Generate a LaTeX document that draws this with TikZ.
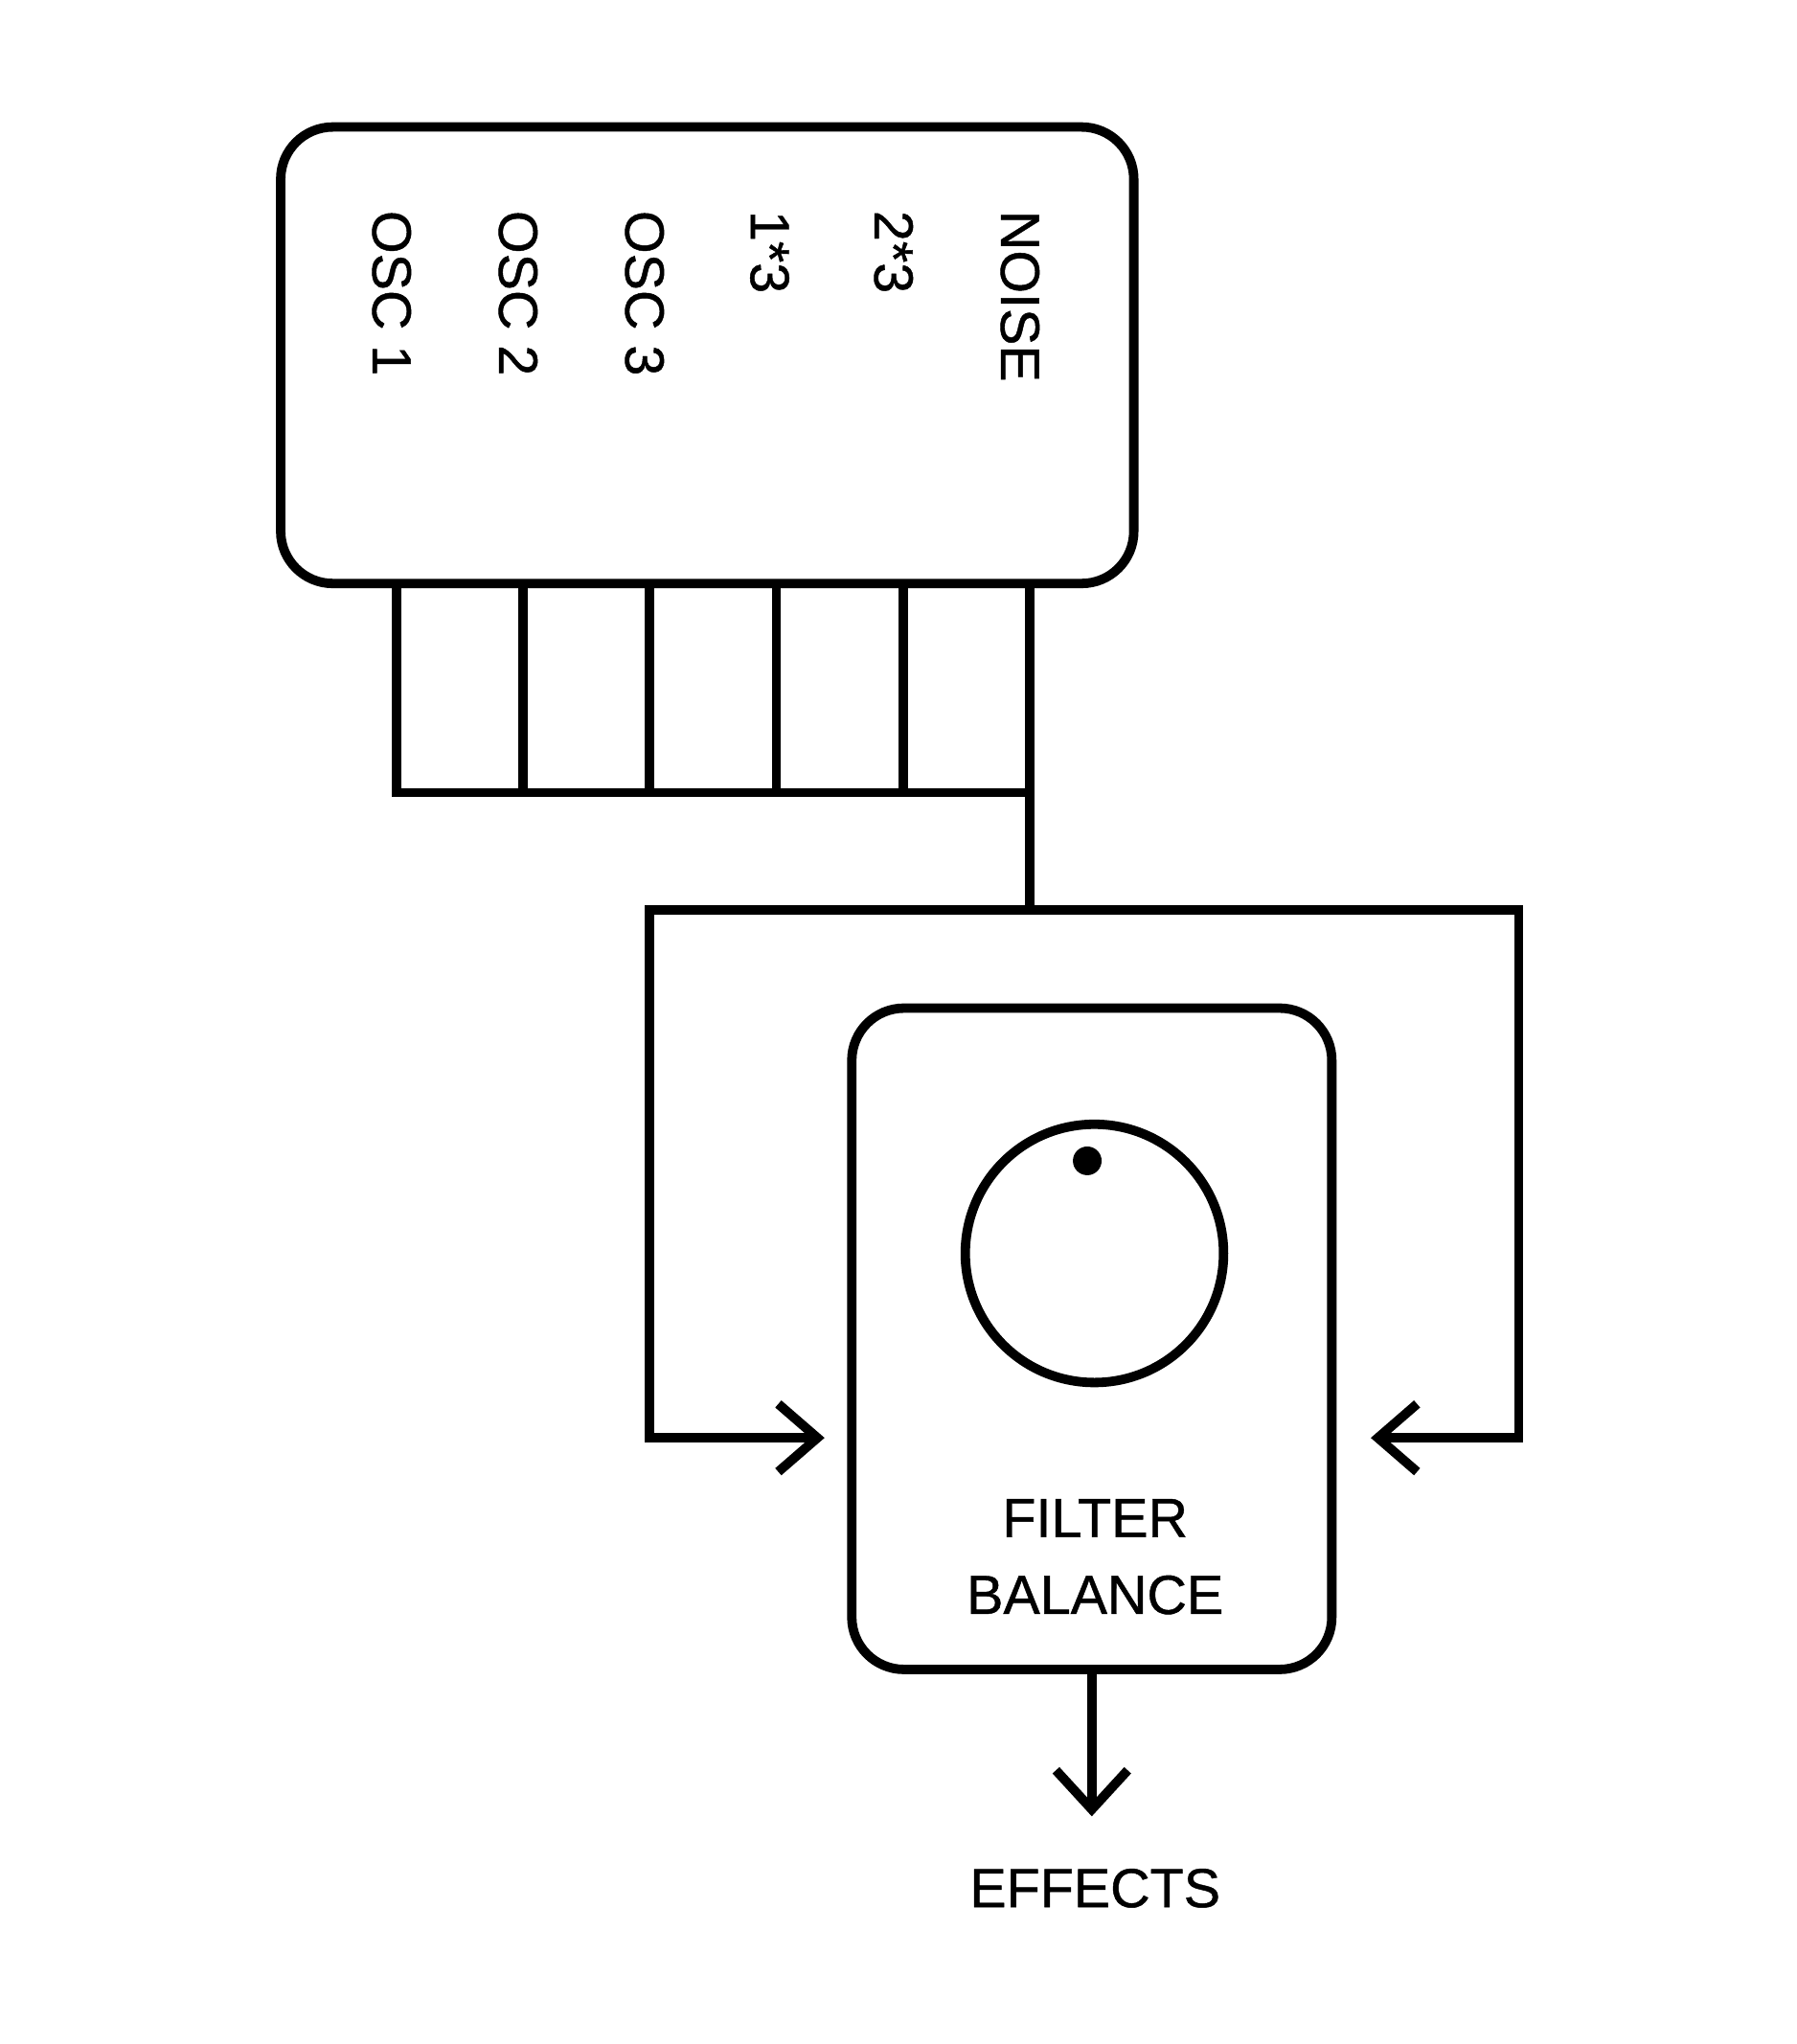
\documentclass[tikz,border=0pt]{standalone}
\usepackage{fontspec}
\setmainfont{Liberation Sans}
\newfontfamily\medfont{Liberation Sans}[BoldFont=Liberation Sans,BoldFeatures={FakeBold=0.8}]
\begin{document}
\begin{tikzpicture}[x=0.01cm,y=-0.01cm,line width=0.072cm,line join=miter,
  box/.style={draw,rounded corners=0.4cm,inner sep=0pt},
  lbl/.style={rotate=-90,anchor=west,inner sep=0pt,text height=8.6pt,text depth=0pt,font=\fontsize{12pt}{14pt}\medfont\bfseries},
  caption/.style={inner sep=0pt,anchor=base,font=\fontsize{12pt}{14pt}\medfont\bfseries}]
\useasboundingbox (0,0) rectangle (1378,1568);

% source box
\node[box,minimum width=6.54cm,minimum height=3.5cm] (src) at (542.5,272.5) {};
\node[lbl] (l1) at (301,158) {OSC 1};
\node[lbl] (l2) at (398,158) {OSC 2};
\node[lbl] (l3) at (495,158) {OSC 3};
\node[lbl] (l4) at (591,158) {1*3};
\node[lbl] (l5) at (686,158) {2*3};
\node[lbl] (l6) at (783,158) {NOISE};

% bus coordinates
\coordinate (c1) at (304,608);
\coordinate (c2) at (401.2,608);
\coordinate (c3) at (498.4,608);
\coordinate (c4) at (595.6,608);
\coordinate (c5) at (692.8,608);
\coordinate (c6) at (790,608);
\coordinate (jn) at (790,698);
\coordinate (brL) at (498,698);
\coordinate (brR) at (1165,698);

% balance box
\node[box,minimum width=3.68cm,minimum height=5.07cm] (bal) at (837.5,1027) {};
\node[draw,circle,minimum size=1.98cm,inner sep=0pt] (knob) at (839.5,961.5) {};
\node[fill,circle,minimum size=0.22cm,inner sep=0pt,draw=none] (dot) at (834,890.5) {};
\node[caption] (t1) at (840,1179) {FILTER};
\node[caption] (t2) at (840,1238) {BALANCE};
\node[caption] (t3) at (840,1463) {EFFECTS};

\coordinate (tipL) at (627,1103);
\coordinate (tipR) at (1057,1103);
\coordinate (tipB) at (837.5,1388);

% bus lines
\draw (c1 |- src.south) -- (c1) -- (c6);
\draw (c2 |- src.south) -- (c2);
\draw (c3 |- src.south) -- (c3);
\draw (c4 |- src.south) -- (c4);
\draw (c5 |- src.south) -- (c5);
\draw (c6 |- src.south) -- (jn);

% branch to balance
\draw (tipL) -- (tipL -| brL) -- (brL) -- (brR) -- (brR |- tipR) -- (tipR);
\draw ([shift={(-30,-26)}]tipL) -- (tipL) -- ([shift={(-30,26)}]tipL);
\draw ([shift={(30,-26)}]tipR) -- (tipR) -- ([shift={(30,26)}]tipR);

% output
\draw (bal.south) -- (tipB);
\draw ([shift={(-27.5,-30)}]tipB) -- (tipB) -- ([shift={(27.5,-30)}]tipB);
\end{tikzpicture}
\end{document}
